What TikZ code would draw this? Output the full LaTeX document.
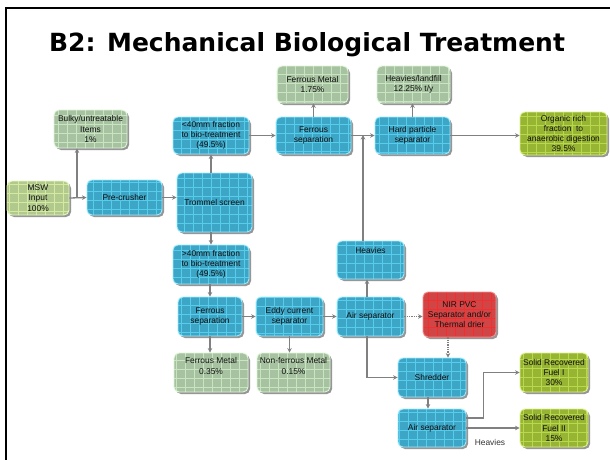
\documentclass[tikz,border=0pt]{standalone}
\usepackage{fontspec}
\setmainfont{Liberation Sans}
\newfontfamily\titlefont{DejaVu Sans}
\usetikzlibrary{arrows.meta,shadows,calc}

\definecolor{bluefill}{HTML}{3DA5C6}
\definecolor{bluegrid}{HTML}{56CDEB}
\definecolor{blueedge}{HTML}{9AEBFF}
\definecolor{palefill}{HTML}{A7C2A0}
\definecolor{palegrid}{HTML}{C8E4C0}
\definecolor{paleedge}{HTML}{DDF6D6}
\definecolor{mswfill}{HTML}{B1C98C}
\definecolor{mswgrid}{HTML}{D3EAA0}
\definecolor{mswedge}{HTML}{E6F7C0}
\definecolor{olivefill}{HTML}{98B433}
\definecolor{olivegrid}{HTML}{B8D84E}
\definecolor{oliveedge}{HTML}{DCF38A}
\definecolor{redfill}{HTML}{D04646}
\definecolor{redgrid}{HTML}{F22E2E}
\definecolor{rededge}{HTML}{F59090}
\definecolor{linegrey}{HTML}{808080}
\definecolor{boxtext}{HTML}{111111}

\tikzset{
  gridded/.style={path picture={\draw[#1, line width=0.45pt]
      ([shift={(-12pt,-12pt)}]path picture bounding box.south west) grid[step=9pt]
      ([shift={(12pt,12pt)}]path picture bounding box.north east);}},
  boxbase/.style={rounded corners=5pt, inner sep=0pt, align=center,
      text=boxtext, line width=0.9pt,
      font=\fontsize{8.4pt}{10.3pt}\selectfont,
      drop shadow={shadow xshift=2pt, shadow yshift=-2pt, fill=black!55, opacity=0.75}},
  bluebox/.style={boxbase, fill=bluefill, draw=blueedge, gridded=bluegrid},
  palebox/.style={boxbase, fill=palefill, draw=paleedge, gridded=palegrid},
  mswbox/.style={boxbase, fill=mswfill, draw=mswedge, gridded=mswgrid},
  olivebox/.style={boxbase, fill=olivefill, draw=oliveedge, gridded=olivegrid},
  redbox/.style={boxbase, fill=redfill, draw=rededge, gridded=redgrid},
  flow/.style={draw=linegrey, line width=1.3pt, -{Stealth[length=4.5pt,width=4.5pt]}},
  dotflow/.style={flow, densely dotted},
  plainlbl/.style={font=\fontsize{8.4pt}{10.3pt}\selectfont, text=black!80, inner sep=0pt}
}

\newcommand\bx[7]{\node[#2, minimum width={(#5-#3)*1pt}, minimum height={(#6-#4)*1pt}]
  (#1) at ({(#3+#5)/2},{(#4+#6)/2}) {#7};}

\begin{document}
\begin{tikzpicture}[x=1pt,y=-1pt]
\useasboundingbox (0,0) rectangle (610,459);
\fill[white] (0,0) rectangle (610,459);

% frame
\draw[line width=2.3pt, black] (6,460) -- (6,8) -- (611,8);

% title
\node[anchor=base, inner sep=0pt, font=\titlefont\bfseries\fontsize{25pt}{30pt}\selectfont]
  (title) at (307,51) {B2: Mechanical Biological Treatment};

% boxes
\bx{bulky}{palebox}{54}{110}{127}{148}{Bulky/untreatable\\Items\\1\%}
\bx{msw}{mswbox}{7}{181}{69}{215}{MSW\\Input\\100\%}
\bx{pre}{bluebox}{87}{180}{162}{215}{Pre-crusher}
\bx{trommel}{bluebox}{177}{173}{252}{232}{Trommel screen}
\bx{lt40}{bluebox}{173}{117}{249}{154}{<40mm fraction\\to bio-treatment\\(49.5\%)}
\bx{fs1}{bluebox}{276}{117}{351}{154}{Ferrous\\separation}
\bx{fm1}{palebox}{277}{66}{348}{103}{Ferrous Metal\\1.75\%}
\bx{hard}{bluebox}{375}{117}{450}{154}{Hard particle\\separator}
\bx{hl}{palebox}{377}{66}{450}{103}{Heavies/landfill\\12.25\% t/y}
\bx{org}{olivebox}{520}{112}{607}{155}{Organic rich\\fraction\ \ to\\anaerobic digestion\\39.5\%}
\bx{gt40}{bluebox}{173}{245}{249}{284}{>40mm fraction\\to bio-treatment\\(49.5\%)}
\bx{fs2}{bluebox}{178}{297}{242}{336}{Ferrous\\separation}
\bx{eddy}{bluebox}{256}{297}{323}{336}{Eddy current\\separator}
\bx{air1}{bluebox}{337}{297}{404}{336}{Air separator}
\bx{heav}{bluebox}{337}{241}{404}{279}{Heavies\\[8pt]}
\bx{nir}{redbox}{423}{292}{496}{337}{NIR PVC\\Separator and/or\\Thermal drier}
\bx{fm2}{palebox}{174}{353}{248}{392}{Ferrous Metal\\0.35\%\\[3pt]}
\bx{nfm}{palebox}{257}{353}{330}{392}{Non-ferrous Metal\\0.15\%\\[3pt]}
\bx{shred}{bluebox}{398}{358}{466}{397}{Shredder}
\bx{air2}{bluebox}{398}{409}{466}{447}{Air separator}
\bx{srf1}{olivebox}{520}{353}{588}{392}{Solid Recovered\\Fuel I\\30\%}
\bx{srf2}{olivebox}{520}{409}{588}{447}{Solid Recovered\\Fuel II\\15\%}

\node[plainlbl] (hvlab) at (490,442) {Heavies};

% helper coordinates
\coordinate (j1) at (77,198);
\coordinate (hj) at (363,135);
\coordinate (c448) at (448,0);
\coordinate (c428) at (428,0);
\coordinate (c367) at (367,0);

% connectors
\draw[flow] (msw.east) -- (pre.west);
\draw[flow] (j1) -- (j1 |- bulky.south);
\draw[flow] (pre.east) -- (pre.east -| trommel.west);
\draw[flow] (trommel.north -| lt40.south) -- (lt40.south);
\draw[flow] (trommel.south -| gt40.north) -- (gt40.north);
\draw[flow] (gt40.south -| fs2.north) -- (fs2.north);
\draw[flow] (fs2.south) -- (fs2.south |- fm2.north);
\draw[flow] (fs2.east) -- (eddy.west);
\draw[flow] (eddy.south) -- (eddy.south |- nfm.north);
\draw[flow] (eddy.east) -- (air1.west);
\draw[flow] (air1.north -| c367) -- (heav.south -| c367);
\draw[flow] (heav.north -| hj) -- (hj);
\draw[flow] (lt40.east) -- (lt40.east -| fs1.west);
\draw[flow] (fs1.east) -- (fs1.east -| hard.west);
\draw[flow] (fs1.north) -- (fs1.north |- fm1.south);
\draw[flow] (hard.north) -- (hard.north |- hl.south);
\draw[flow] (hard.east) -- (hard.east -| org.west);
\draw[dotflow] (air1.east) -- (air1.east -| nir.west);
\draw[dotflow] (nir.south -| c448) -- (shred.north -| c448);
\draw[flow] (air1.south -| c367) |- (shred.west);
\draw[flow] (shred.south -| c428) -- (air2.north -| c428);
\draw[flow] ($(air2.east)+(0,-10)$) -- ++(17,0) |- (srf1.west);
\draw[flow] (air2.east) -- (air2.east -| srf2.west);
\end{tikzpicture}
\end{document}
